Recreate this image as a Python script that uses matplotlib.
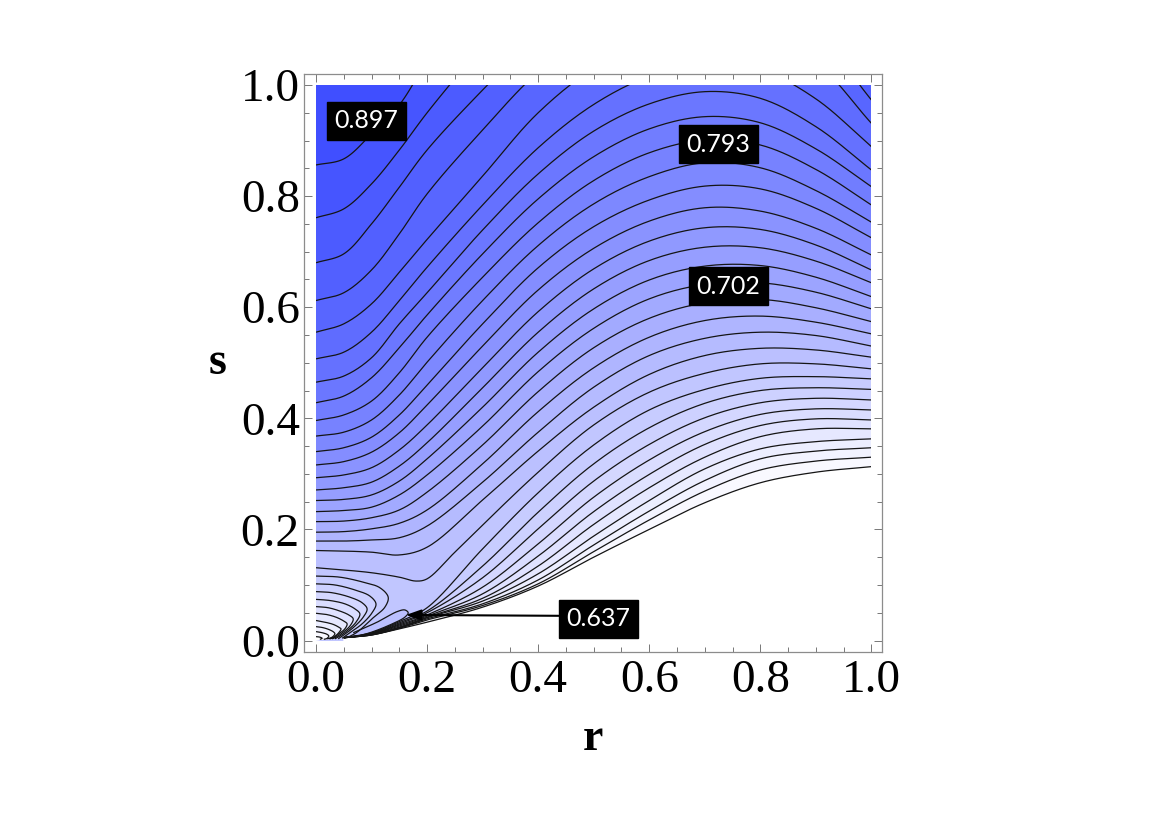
import numpy as np
import matplotlib
matplotlib.use("Agg")
import matplotlib.pyplot as plt
from matplotlib.patches import Rectangle
from matplotlib.ticker import MultipleLocator, FormatStrFormatter

# ---- data: contours s(r) ----
r_grid = [0, .05, .1, .15, .2, .3, .4, .5, .6, .7, .8, .9, 1]
r_saddle = [0, .05, .1, .15, .18, .2, .25, .3, .4, .5, .6, .7, .8, .9, 1]
r_fan = [.05, .1, .15, .2, .3, .4, .5, .6, .7, .8, .9, 1]

level_top = 0.897
level_step = 0.013

c01 = [.856, .867, .912, .964, 1.045]
c02 = [.761, .777, .822, .883, .950, 1.072]
c03 = [.680, .696, .750, .816, .883, .991, 1.090]
c04 = [.612, .626, .667, .732, .804, .919, 1.023, 1.090, 1.139, 1.162, 1.158, 1.095, .973]
c05 = [.555, .570, .606, .663, .722, .836, .950, 1.030, 1.078, 1.098, 1.085, 1.040, .931]
c06 = [.507, .519, .555, .612, .672, .784, .887, .965, 1.016, 1.041, 1.028, .975, .889]
c07 = [.465, .476, .509, .570, .626, .739, .840, .917, .966, .988, .976, .925, .847]
c08 = [.428, .440, .473, .527, .586, .696, .795, .871, .921, .943, .932, .885, .817]
c09 = [.396, .406, .431, .482, .546, .654, .752, .828, .878, .901, .892, .848, .784]
c10 = [.368, .375, .397, .442, .501, .612, .711, .786, .835, .860, .851, .810, .753]
c11 = [.340, .347, .366, .406, .460, .570, .671, .745, .793, .818, .813, .778, .725]
c12 = [.316, .322, .339, .374, .424, .530, .631, .706, .755, .779, .773, .742, .694]
c13 = [.293, .298, .311, .343, .388, .491, .592, .669, .719, .743, .740, .712, .667]
c14 = [.271, .275, .285, .314, .356, .455, .555, .633, .684, .708, .707, .683, .644]
c15 = [.252, .254, .262, .287, .327, .420, .519, .597, .649, .674, .675, .654, .619]
c16 = [.232, .234, .240, .262, .298, .386, .484, .562, .615, .641, .644, .627, .597]
c17 = [.214, .215, .221, .235, .267, .352, .448, .527, .580, .608, .614, .599, .574]
c18 = [.195, .196, .201, .211, .235, .318, .412, .491, .546, .576, .584, .573, .552]
c19 = [.179, .179, .181, .185, .206, .285, .375, .456, .513, .544, .555, .549, .530]
c20 = [.162, .161, .159, .154, .168, .253, .341, .420, .479, .513, .526, .523, .510]
c21 = [.131, .127, .122, .114, .107, .111, .159, .208, .303, .388, .447, .481, .498, .498, .489]

f01 = [.005, .014, .034, .059, .165, .266, .352, .415, .452, .472, .475, .471]
f02 = [.005, .013, .032, .053, .134, .231, .318, .383, .427, .450, .455, .452]
f03 = [.005, .012, .030, .050, .113, .201, .287, .353, .401, .428, .436, .433]
f04 = [.005, .012, .028, .046, .096, .174, .258, .325, .376, .407, .417, .415]
f05 = [.005, .012, .026, .044, .084, .152, .232, .299, .353, .387, .399, .397]
f06 = [.005, .011, .024, .042, .076, .134, .209, .275, .330, .367, .381, .381]
f07 = [.005, .011, .023, .041, .071, .120, .188, .252, .309, .345, .358, .363]
f08 = [.005, .010, .023, .039, .066, .109, .172, .233, .288, .327, .341, .347]
f09 = [.005, .010, .022, .037, .063, .102, .160, .217, .269, .307, .323, .330]
f10 = [.005, .010, .021, .033, .060, .098, .150, .200, .248, .284, .303, .313]

loop01_r = [0, .043, .085, .115, .130, .124, .103, .074, .056]
loop01_s = [.116, .114, .105, .095, .078, .060, .041, .015, .005]
loop02_r = [0, .034, .070, .097, .108, .101, .083, .061, .047]
loop02_s = [.102, .100, .091, .080, .066, .050, .030, .014, .004]
loop03_r = [0, .029, .061, .083, .092, .085, .068, .050, .040]
loop03_s = [.088, .086, .078, .068, .057, .042, .024, .010, .003]
loop04_r = [0, .025, .052, .070, .079, .072, .058, .043, .034]
loop04_s = [.074, .072, .066, .057, .048, .033, .019, .008, .003]
loop05_r = [0, .022, .043, .059, .067, .061, .049, .036, .029]
loop05_s = [.061, .059, .053, .046, .039, .026, .015, .006, .003]
loop06_r = [0, .018, .036, .050, .056, .052, .041, .031, .025]
loop06_s = [.049, .047, .042, .035, .030, .021, .012, .005, .003]
loop07_r = [0, .016, .031, .041, .045, .041, .032, .023]
loop07_s = [.036, .033, .029, .024, .021, .014, .006, .003]
loop08_r = [0, .013, .025, .032, .034, .029, .020]
loop08_s = [.025, .023, .019, .015, .012, .006, .003]
loop09_r = [0, .011, .020, .023, .020, .014]
loop09_s = [.016, .014, .011, .008, .004, .002]
loop10_r = [0, .007, .011, .007]
loop10_s = [.007, .006, .004, .002]

tongue_r = [.067, .097, .133, .160, .166, .160, .146, .110, .067]
tongue_s = [.006, .014, .028, .042, .050, .055, .052, .033, .014]

tick_major = 0.2
tick_minor = 0.05

callout_text = ["0.897", "0.793", "0.702"]
callout_r = [.091, .7245, .742]
callout_s = [.936, .893, .638]
arrow_text = "0.637"
arrow_text_pos = (.509, .039)
arrow_tip = (.162, .046)


def smooth(xs, ys, n=20):
    """Centripetal Catmull-Rom drawing of a contour through its read points."""
    P = np.column_stack([xs, ys]).astype(float)
    P = np.vstack([2 * P[0] - P[1], P, 2 * P[-1] - P[-2]])
    out = []
    for i in range(len(P) - 3):
        p0, p1, p2, p3 = P[i:i + 4]
        t0 = 0.0
        t1 = t0 + np.linalg.norm(p1 - p0) ** .5
        t2 = t1 + np.linalg.norm(p2 - p1) ** .5
        t3 = t2 + np.linalg.norm(p3 - p2) ** .5
        t = np.linspace(t1, t2, n, endpoint=False)[:, None]
        a1 = (t1 - t) / (t1 - t0) * p0 + (t - t0) / (t1 - t0) * p1
        a2 = (t2 - t) / (t2 - t1) * p1 + (t - t1) / (t2 - t1) * p2
        a3 = (t3 - t) / (t3 - t2) * p2 + (t - t2) / (t3 - t2) * p3
        b1 = (t2 - t) / (t2 - t0) * a1 + (t - t0) / (t2 - t0) * a2
        b2 = (t3 - t) / (t3 - t1) * a2 + (t - t1) / (t3 - t1) * a3
        out.append((t2 - t) / (t2 - t1) * b1 + (t - t1) / (t2 - t1) * b2)
    out.append(P[-2][None, :])
    out = np.vstack(out)
    return out[:, 0], out[:, 1]


def shade(v):
    t = np.clip((v - 0.5) / (0.92 - 0.5), 0, 1)
    blue = np.array([56, 72, 255]) / 255
    return tuple(1 + (blue - 1) * t)


plt.rcParams["font.family"] = ["Liberation Serif", "DejaVu Serif"]
fig = plt.figure(figsize=(11.7, 8.27), dpi=100, facecolor="white")
ax = fig.add_axes([304 / 1170, 1 - 652 / 827, 578 / 1170, 578 / 827])
ax.set_xlim(-0.0216, 1.019)
ax.set_ylim(-0.0207, 1.0198)
clip = Rectangle((0, 0), 1, 1, transform=ax.transData)

line_kw = dict(color="#151515", lw=0.9, zorder=3, solid_capstyle="butt")
low, far = -0.05, 1.1


def paint(x, y, color):
    for poly in ax.fill(x, y, color=color, lw=0, zorder=1):
        poly.set_clip_path(clip)


def contour_line(x, y):
    for ln in ax.plot(x, y, **line_kw):
        ln.set_clip_path(clip)


# ---- bands, darkest first ----
paint([0, 1, 1, 0], [0, 0, 1, 1], shade(level_top + 0.0065))
upper = [c01, c02, c03, c04, c05, c06, c07, c08, c09, c10,
         c11, c12, c13, c14, c15, c16, c17, c18, c19, c20]
curves = []
for i, vals in enumerate(upper + [c21]):
    rr = r_saddle if vals is c21 else r_grid[:len(vals)]
    x, y = smooth(rr, vals)
    curves.append((x, y))
    lev = level_top - i * level_step
    paint(np.r_[x, far, far, x[0]], np.r_[y, y[-1], low, low], shade(lev - 0.0065))

lev0 = level_top - 20 * level_step
fans = [f01, f02, f03, f04, f05, f06, f07, f08, f09, f10]
for k, vals in enumerate(fans, start=1):
    x, y = smooth(r_fan, vals)
    curves.append((x, y))
    lev = lev0 - k * level_step
    col = "white" if k == len(fans) else shade(lev - 0.0065)
    paint(np.r_[x, far, far, x[0]], np.r_[y, y[-1], low, low], col)

loops = [(loop01_r, loop01_s), (loop02_r, loop02_s), (loop03_r, loop03_s),
         (loop04_r, loop04_s), (loop05_r, loop05_s), (loop06_r, loop06_s),
         (loop07_r, loop07_s), (loop08_r, loop08_s), (loop09_r, loop09_s),
         (loop10_r, loop10_s)]
for k, (lr, ls) in enumerate(loops, start=1):
    x, y = smooth(lr, ls)
    curves.append((x, y))
    lev = lev0 - k * level_step
    col = "white" if k == len(loops) else shade(lev - 0.0065)
    paint(np.r_[x, 0], np.r_[y, 0], col)

tx, ty = smooth(tongue_r, tongue_s)
curves.append((tx, ty))
paint(tx, ty, shade(lev0 + 0.0065))

for x, y in curves:
    contour_line(x, y)

# ---- frame and ticks ----
for sp in ax.spines.values():
    sp.set_color("#8c8c8c")
    sp.set_linewidth(0.9)
for axis in (ax.xaxis, ax.yaxis):
    axis.set_major_locator(MultipleLocator(tick_major))
    axis.set_minor_locator(MultipleLocator(tick_minor))
    axis.set_major_formatter(FormatStrFormatter("%.1f"))
ax.tick_params(which="both", direction="in", top=True, right=True, color="#777777", width=0.7)
ax.tick_params(which="major", length=5.8, labelsize=34)
ax.tick_params(which="minor", length=3.3)
ax.tick_params(axis="x", which="major", pad=5.5)
ax.tick_params(axis="y", which="major", pad=3)

ax.set_xlabel("r", fontsize=33, fontweight="bold", labelpad=11.5)
ax.set_ylabel("s", fontsize=33, fontweight="bold", rotation=0, va="center", labelpad=16.5)

# ---- contour callouts ----
box = dict(boxstyle="square,pad=0.3", fc="black", ec="black")
for txt, xr, ys in zip(callout_text, callout_r, callout_s):
    ax.text(xr, ys, txt, color="white", fontsize=18, family=["Lato", "DejaVu Sans"],
            ha="center", va="center", bbox=box, zorder=5)
ax.annotate(arrow_text, xy=arrow_tip, xytext=arrow_text_pos, color="white", fontsize=18,
            family=["Lato", "DejaVu Sans"], ha="center", va="center", bbox=box, zorder=5,
            arrowprops=dict(arrowstyle="-|>,head_width=0.18,head_length=0.5", color="black", lw=1.5,
                            relpos=(0, 0.63), shrinkA=0, shrinkB=0))

fig.savefig("out.png", dpi=100)
